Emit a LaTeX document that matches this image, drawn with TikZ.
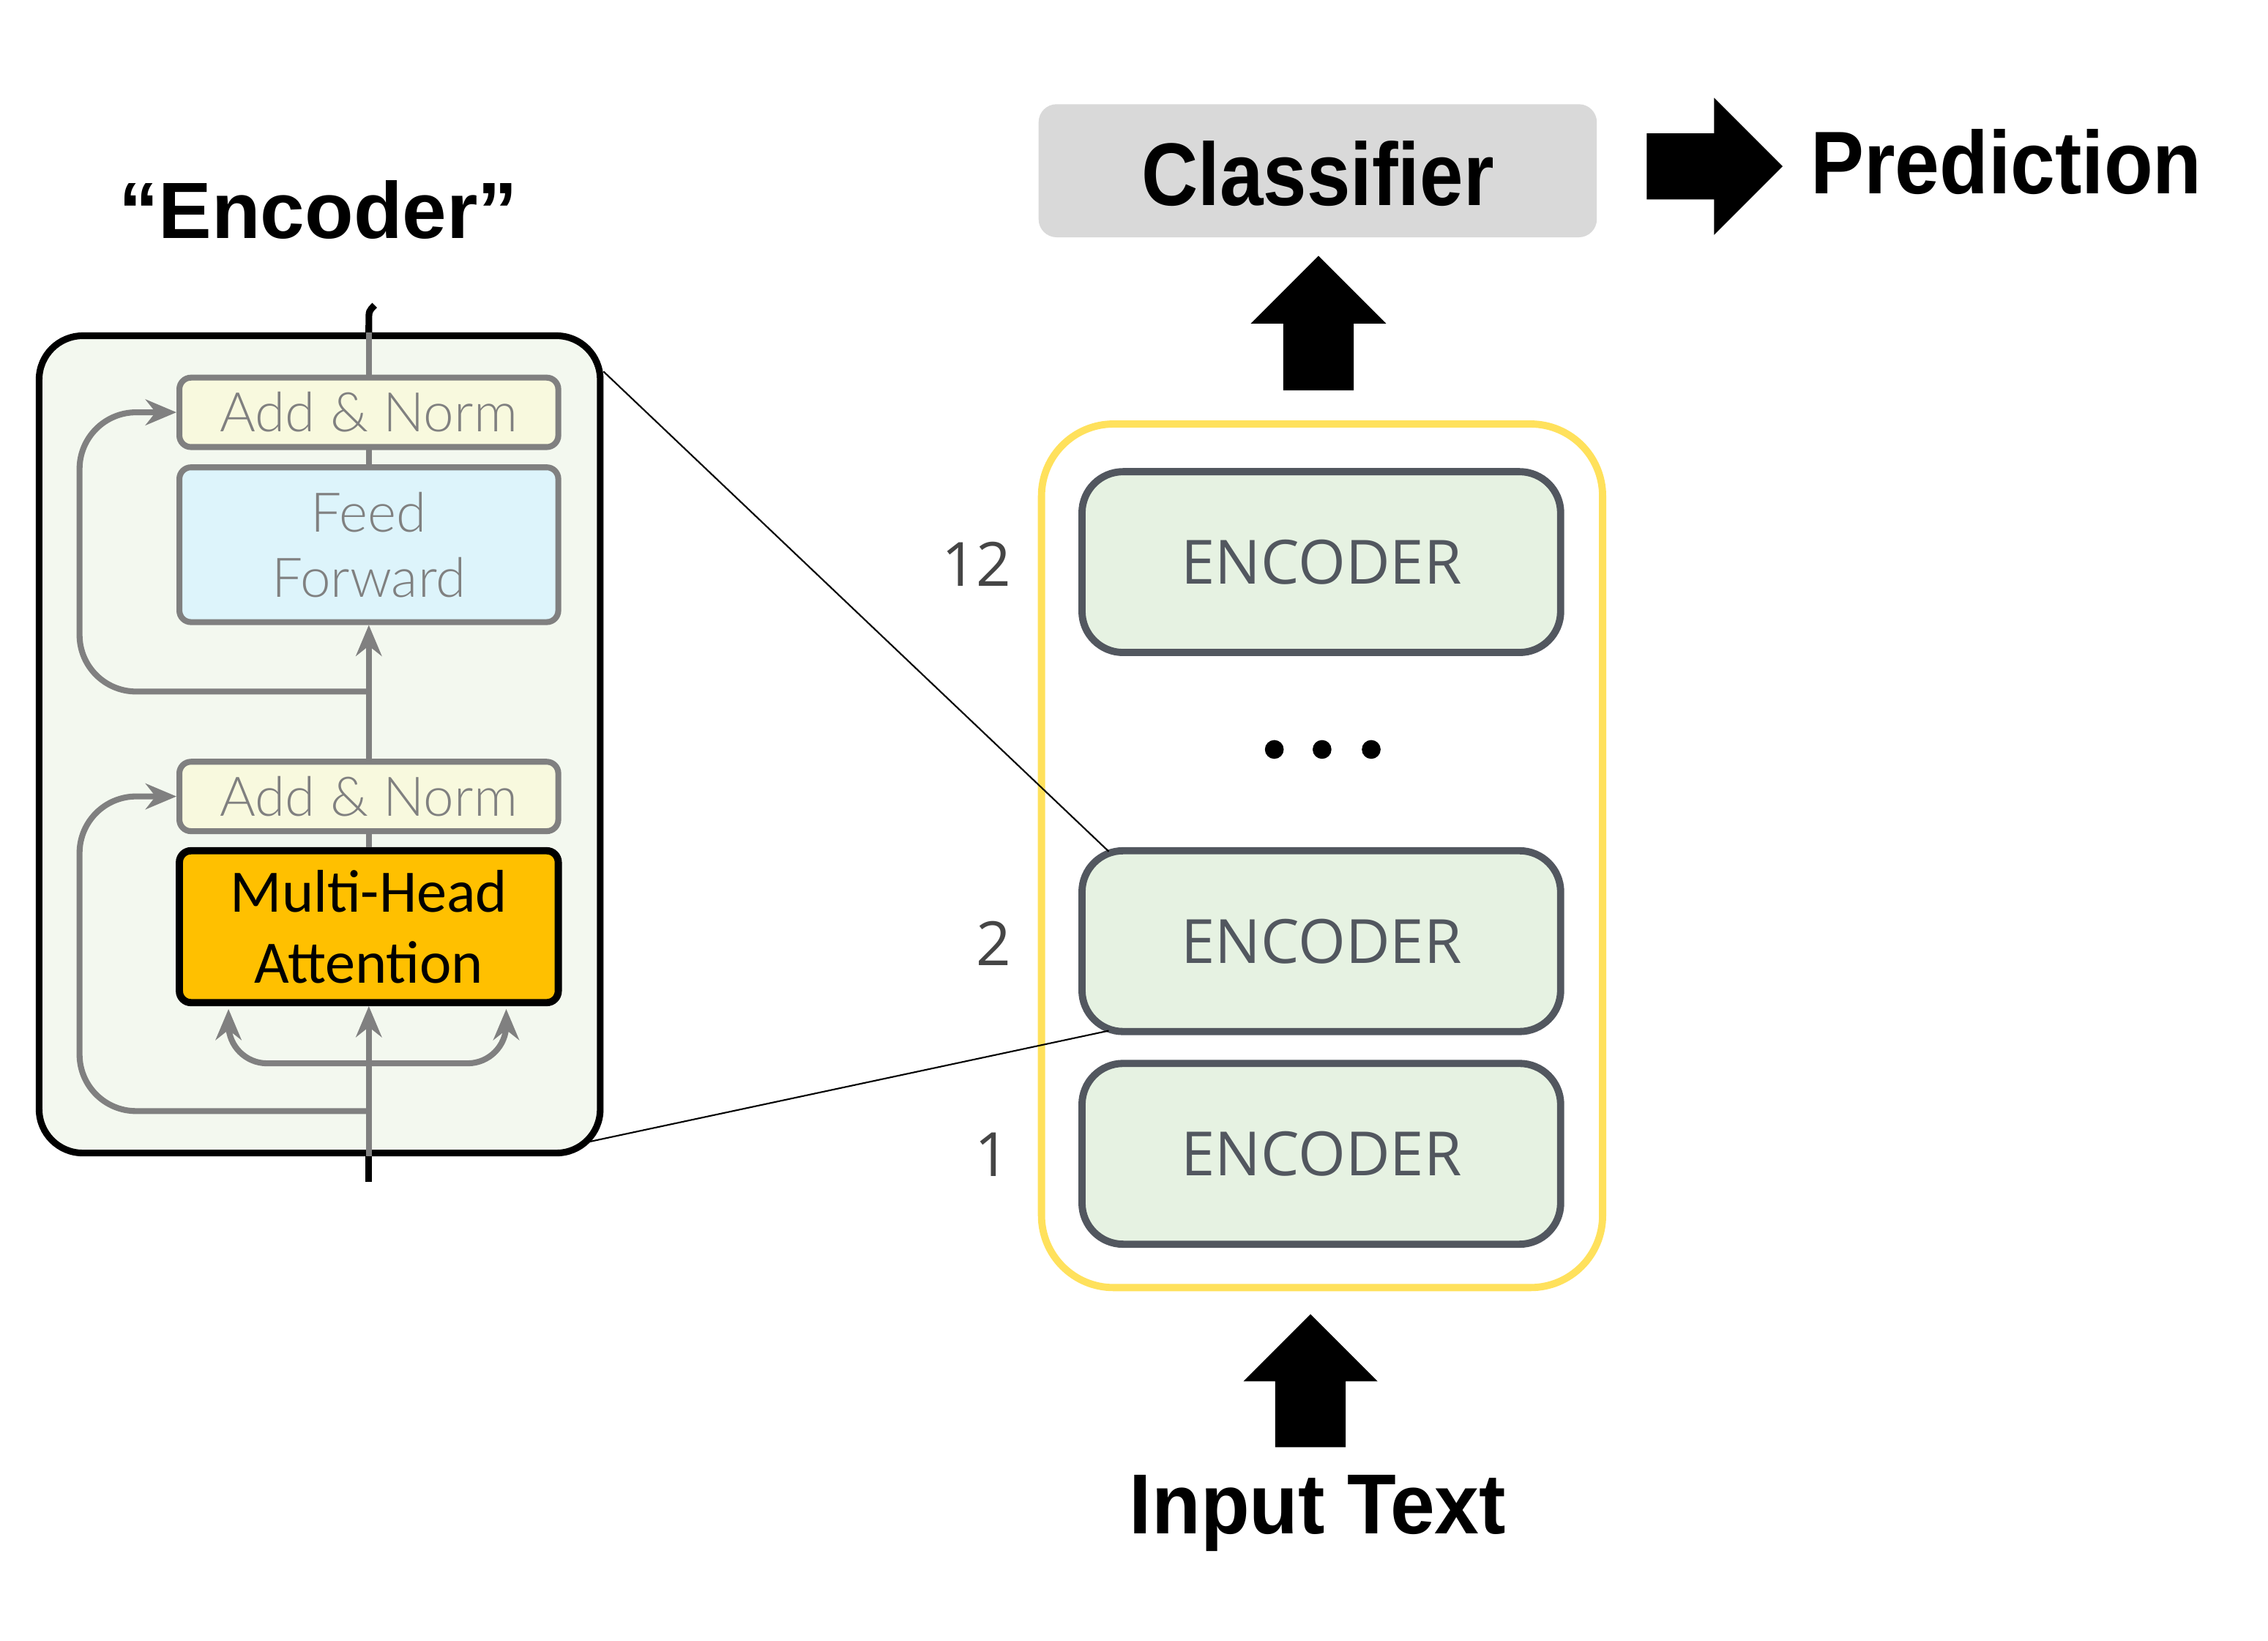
\documentclass[tikz,border=0pt]{standalone}
\usepackage{fontspec}
\setmainfont{Liberation Sans}
\newfontfamily\opensans{Open Sans}
\newfontfamily\thinfont{Lato Light}
\newfontfamily\carlito{Carlito}
\usetikzlibrary{calc,shapes.arrows,arrows.meta}

\definecolor{boxgreen}{HTML}{F3F8EF}
\definecolor{linegray}{HTML}{808080}
\definecolor{normyellow}{HTML}{F8F9DE}
\definecolor{ffblue}{HTML}{DDF4FB}
\definecolor{mhaorange}{HTML}{FFC000}
\definecolor{stackyellow}{HTML}{FFE15C}
\definecolor{encborder}{HTML}{52575F}
\definecolor{encfill}{HTML}{E6F2E2}
\definecolor{clsgray}{HTML}{D9D9D9}
\definecolor{numgray}{HTML}{454545}

\begin{document}
\begin{tikzpicture}[x=0.02cm, y=-0.02cm, scale=0.9879, every node/.append style={transform shape},
    gline/.style={draw=linegray, line width=2.3pt},
    blackline/.style={draw=black, line width=2.6pt},
    normbox/.style={rectangle, draw=linegray, line width=2.3pt, fill=normyellow, rounded corners=4.5pt, minimum width=5.24cm, minimum height=0.96cm, inner sep=0pt, text=linegray, font=\thinfont\fontsize{21.5}{24}\selectfont},
    encbox/.style={rectangle, draw=encborder, line width=2.8pt, fill=encfill, rounded corners=16pt, minimum width=6.62cm, minimum height=2.5cm, text=encborder, font=\opensans\fontsize{24}{28}\selectfont},
    numlabel/.style={text=numgray, font=\opensans\fontsize{24}{28}\selectfont},
    bigarrow/.style={single arrow, fill=black, single arrow tip angle=90},
    bigtext/.style={font=\bfseries\fontsize{35}{42}\selectfont}]
    \useasboundingbox (0,0) rectangle (1568,1134.2);

    % Place nodes (left: one encoder block)
    \node [rectangle, draw=black, line width=2.6pt, fill=boxgreen, rounded corners=17pt, minimum width=7.76cm, minimum height=11.3cm] (outer) at (221,514.5) {};
    \node [normbox] (an2) at (255,285) {Add \& Norm};
    \node [rectangle, draw=linegray, line width=2.3pt, fill=ffblue, rounded corners=4.5pt, minimum width=5.24cm, minimum height=2.14cm, inner sep=0pt, text=linegray, align=center, font=\thinfont\fontsize{21.5}{25.6}\selectfont] (ff) at (255,376.5) {\raisebox{3pt}{\parbox{5cm}{\centering Feed\\Forward}}};
    \node [normbox] (an1) at (255,550.5) {Add \& Norm};
    \node [rectangle, draw=black, line width=2.8pt, fill=mhaorange, rounded corners=4.5pt, minimum width=5.24cm, minimum height=2.1cm, inner sep=0pt, align=center, font=\carlito\fontsize{23.7}{28}\selectfont] (mha) at (255,640.5) {Multi-Head\\Attention};
    \node [bigtext] (title) at (220,145) {\fontsize{31.4}{38}\selectfont ``Encoder''};
    \coordinate (bot) at (255,817);
    \coordinate (top) at (255,212);
    \coordinate (r1) at (255,768);
    \coordinate (r2) at (255,478);
    \coordinate (split) at (255,735);
    \coordinate (lft) at (55,0);

    % Main flow
    \path [gline, -{Stealth[length=12pt,width=10pt]}] (bot) -- (mha.south);
    \path [blackline] (bot) -- (outer.south -| bot);
    \path [gline] (mha.north) -- (an1.south);
    \path [gline, -{Stealth[length=12pt,width=10pt]}] (an1.north) -- (ff.south);
    \path [gline] (ff.north) -- (an2.south);
    \path [gline] (an2.north) -- (outer.north -| top);
    \path [blackline] (outer.north -| top) -- (255,222) .. controls (255,215) .. (259,211);

    % Residual paths
    \path [gline, rounded corners=22pt, -{Stealth[length=12pt,width=10pt]}] (r2) -| (lft |- an2.west) -- (an2.west);
    \path [gline, rounded corners=22pt, -{Stealth[length=12pt,width=10pt]}] (r1) -| (lft |- an1.west) -- (an1.west);
    \path [gline, rounded corners=15pt, -{Stealth[length=12pt,width=10pt]}] (split) -| ($(mha.south)+(-97,2)$);
    \path [gline, rounded corners=15pt, -{Stealth[length=12pt,width=10pt]}] (split) -| ($(mha.south)+(95,2)$);

    % Place nodes (right: the encoder stack)
    \node [rectangle, draw=stackyellow, line width=2.8pt, rounded corners=28pt, minimum width=7.76cm, minimum height=11.94cm] (stack) at (914,591.5) {};
    \node [encbox] (enc12) at (913.5,388.5) {ENCODER};
    \node [encbox] (enc2) at (913.5,650.5) {ENCODER};
    \node [encbox] (enc1) at (913.5,797.5) {ENCODER};
    \node [numlabel] (n12) at (675,390) {12};
    \node [numlabel] (n2) at (687,652) {2};
    \node [numlabel] (n1) at (686,798) {1};
    \foreach \x in {881,914,948}
        \fill [black] (\x,518) circle (6.5);

    \node [rectangle, fill=clsgray, rounded corners=7pt, minimum width=7.72cm, minimum height=1.84cm] (cls) at (911,118) {};
    \node [bigtext] (clstext) at (911,120) {\scalebox{0.88}[1]{Classifier}};
    \node [bigarrow, minimum height=1.88cm, inner xsep=0pt, inner ysep=0.45cm, single arrow head extend=0.49cm] (toout) at (1174,115) {};
    \node [bigtext] (pred) at (1387,112) {\scalebox{0.9}[1]{Prediction}};
    \node [bigarrow, shape border rotate=90, minimum height=1.86cm, inner ysep=0pt, inner xsep=0.48cm, single arrow head extend=0.45cm] (tocls) at (911.5,235.5) {};
    \node [bigarrow, shape border rotate=90, minimum height=1.84cm, inner ysep=0pt, inner xsep=0.48cm, single arrow head extend=0.44cm] (toenc) at (906,966.5) {};
    \node [bigtext] (input) at (911,1046) {\fontsize{33.5}{40}\selectfont\scalebox{0.94}[1]{Input Text}};

    % Zoom lines
    \path [draw, line width=0.6pt] ($(outer.north east)+(0,27)$) -- ($(enc2.north west)+(21,3)$);
    \path [draw, line width=0.6pt] ($(outer.south east)+(-10,-10)$) -- ($(enc2.south west)+(21,-3)$);
\end{tikzpicture}
\end{document}
